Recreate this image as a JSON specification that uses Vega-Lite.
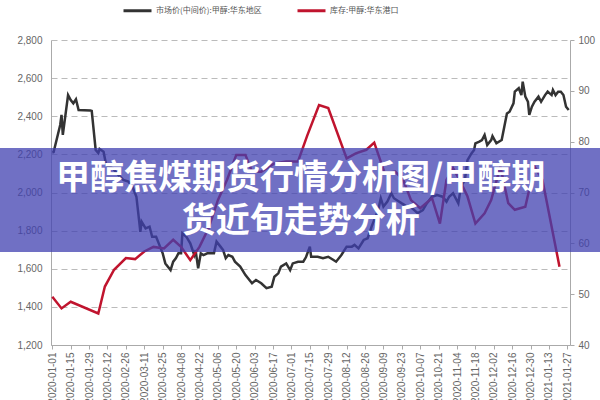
{
  "$schema": "https://vega.github.io/schema/vega-lite/v6.json",
  "width": 519,
  "height": 305,
  "autosize": {"type": "none"},
  "padding": {"left": 51, "top": 40, "right": 30, "bottom": 55},
  "background": "white",
  "config": {
    "view": {"stroke": null},
    "font": "Liberation Sans",
    "axis": {"labelFont": "Liberation Sans", "labelFontSize": 10, "labelColor": "#666", "domainColor": "#aaa", "tickColor": "#aaa", "title": null},
    "axisX": {"labelAngle": 270, "labelPadding": 3, "tickSize": 4, "grid": false, "labelOverlap": false, "labelBound": false, "labelFlush": false, "labelExpr": "utcFormat(datum.value, '%Y-%m-%d')"}
  },
  "datasets": {
    "price": [
      {"date": "2020-01-01", "price": 2210}, {"date": "2020-01-02", "price": 2212}, {"date": "2020-01-07", "price": 2354},
      {"date": "2020-01-08", "price": 2407}, {"date": "2020-01-09", "price": 2302}, {"date": "2020-01-13", "price": 2511},
      {"date": "2020-01-15", "price": 2485}, {"date": "2020-01-17", "price": 2468}, {"date": "2020-01-19", "price": 2489},
      {"date": "2020-01-21", "price": 2433}, {"date": "2020-01-30", "price": 2430}, {"date": "2020-01-31", "price": 2428},
      {"date": "2020-02-03", "price": 2223}, {"date": "2020-02-05", "price": 2207}, {"date": "2020-02-06", "price": 2228},
      {"date": "2020-02-09", "price": 2214}, {"date": "2020-02-11", "price": 2144}, {"date": "2020-02-14", "price": 2135},
      {"date": "2020-02-16", "price": 2127}, {"date": "2020-02-19", "price": 2102}, {"date": "2020-02-24", "price": 2066},
      {"date": "2020-02-28", "price": 2057}, {"date": "2020-03-02", "price": 2030}, {"date": "2020-03-05", "price": 1978},
      {"date": "2020-03-07", "price": 1856}, {"date": "2020-03-08", "price": 1794}, {"date": "2020-03-09", "price": 1847},
      {"date": "2020-03-12", "price": 1812}, {"date": "2020-03-15", "price": 1821}, {"date": "2020-03-17", "price": 1768},
      {"date": "2020-03-20", "price": 1768}, {"date": "2020-03-22", "price": 1733}, {"date": "2020-03-25", "price": 1681},
      {"date": "2020-03-27", "price": 1628}, {"date": "2020-03-31", "price": 1593}, {"date": "2020-04-02", "price": 1637},
      {"date": "2020-04-04", "price": 1655}, {"date": "2020-04-06", "price": 1681}, {"date": "2020-04-08", "price": 1681},
      {"date": "2020-04-09", "price": 1786}, {"date": "2020-04-12", "price": 1768}, {"date": "2020-04-15", "price": 1733},
      {"date": "2020-04-18", "price": 1672}, {"date": "2020-04-19", "price": 1698}, {"date": "2020-04-21", "price": 1602},
      {"date": "2020-04-23", "price": 1681}, {"date": "2020-04-25", "price": 1672}, {"date": "2020-04-28", "price": 1681},
      {"date": "2020-05-03", "price": 1681}, {"date": "2020-05-05", "price": 1742}, {"date": "2020-05-08", "price": 1716},
      {"date": "2020-05-10", "price": 1698}, {"date": "2020-05-12", "price": 1655}, {"date": "2020-05-14", "price": 1672},
      {"date": "2020-05-17", "price": 1663}, {"date": "2020-05-19", "price": 1637}, {"date": "2020-05-23", "price": 1611},
      {"date": "2020-05-27", "price": 1567}, {"date": "2020-06-01", "price": 1524}, {"date": "2020-06-04", "price": 1541},
      {"date": "2020-06-08", "price": 1524}, {"date": "2020-06-12", "price": 1498}, {"date": "2020-06-16", "price": 1506},
      {"date": "2020-06-18", "price": 1558}, {"date": "2020-06-21", "price": 1576}, {"date": "2020-06-23", "price": 1611},
      {"date": "2020-06-27", "price": 1628}, {"date": "2020-06-30", "price": 1593}, {"date": "2020-07-02", "price": 1628},
      {"date": "2020-07-06", "price": 1637}, {"date": "2020-07-10", "price": 1637}, {"date": "2020-07-12", "price": 1660},
      {"date": "2020-07-15", "price": 1716}, {"date": "2020-07-16", "price": 1663}, {"date": "2020-07-21", "price": 1663},
      {"date": "2020-07-25", "price": 1655}, {"date": "2020-07-29", "price": 1663}, {"date": "2020-08-02", "price": 1646},
      {"date": "2020-08-04", "price": 1637}, {"date": "2020-08-08", "price": 1672}, {"date": "2020-08-12", "price": 1716},
      {"date": "2020-08-16", "price": 1716}, {"date": "2020-08-18", "price": 1725}, {"date": "2020-08-21", "price": 1707},
      {"date": "2020-08-25", "price": 1751}, {"date": "2020-08-28", "price": 1760}, {"date": "2020-08-31", "price": 1821},
      {"date": "2020-09-02", "price": 1856}, {"date": "2020-09-05", "price": 1908}, {"date": "2020-09-07", "price": 1970},
      {"date": "2020-09-09", "price": 1926}, {"date": "2020-09-12", "price": 1952}, {"date": "2020-09-15", "price": 1996},
      {"date": "2020-09-17", "price": 1970}, {"date": "2020-09-19", "price": 1961}, {"date": "2020-09-23", "price": 1943},
      {"date": "2020-09-27", "price": 1926}, {"date": "2020-10-01", "price": 1917}, {"date": "2020-10-05", "price": 1891},
      {"date": "2020-10-09", "price": 1908}, {"date": "2020-10-12", "price": 1943}, {"date": "2020-10-16", "price": 1978},
      {"date": "2020-10-20", "price": 1987}, {"date": "2020-10-24", "price": 1978}, {"date": "2020-10-27", "price": 1952},
      {"date": "2020-10-29", "price": 1978}, {"date": "2020-11-01", "price": 1996}, {"date": "2020-11-05", "price": 1943},
      {"date": "2020-11-07", "price": 2030}, {"date": "2020-11-10", "price": 2066}, {"date": "2020-11-12", "price": 2170},
      {"date": "2020-11-15", "price": 2205}, {"date": "2020-11-17", "price": 2223}, {"date": "2020-11-18", "price": 2258},
      {"date": "2020-11-21", "price": 2267}, {"date": "2020-11-23", "price": 2275}, {"date": "2020-11-25", "price": 2302},
      {"date": "2020-11-27", "price": 2249}, {"date": "2020-11-30", "price": 2275}, {"date": "2020-12-01", "price": 2296},
      {"date": "2020-12-04", "price": 2258}, {"date": "2020-12-08", "price": 2275}, {"date": "2020-12-10", "price": 2345},
      {"date": "2020-12-12", "price": 2415}, {"date": "2020-12-14", "price": 2424}, {"date": "2020-12-17", "price": 2468},
      {"date": "2020-12-18", "price": 2529}, {"date": "2020-12-21", "price": 2547}, {"date": "2020-12-23", "price": 2511},
      {"date": "2020-12-24", "price": 2581}, {"date": "2020-12-26", "price": 2503}, {"date": "2020-12-28", "price": 2476},
      {"date": "2020-12-29", "price": 2407}, {"date": "2020-12-31", "price": 2450}, {"date": "2021-01-02", "price": 2476},
      {"date": "2021-01-05", "price": 2503}, {"date": "2021-01-07", "price": 2476}, {"date": "2021-01-10", "price": 2511},
      {"date": "2021-01-12", "price": 2529}, {"date": "2021-01-15", "price": 2511}, {"date": "2021-01-16", "price": 2538},
      {"date": "2021-01-18", "price": 2511}, {"date": "2021-01-20", "price": 2529}, {"date": "2021-01-22", "price": 2529},
      {"date": "2021-01-24", "price": 2511}, {"date": "2021-01-26", "price": 2450}, {"date": "2021-01-28", "price": 2433}
    ],
    "stock": [
      {"date": "2020-01-01", "stock": 49.5}, {"date": "2020-01-08", "stock": 47.2}, {"date": "2020-01-15", "stock": 48.5},
      {"date": "2020-02-05", "stock": 46.2}, {"date": "2020-02-10", "stock": 51.5}, {"date": "2020-02-17", "stock": 54.8},
      {"date": "2020-02-26", "stock": 57.1}, {"date": "2020-03-04", "stock": 56.9}, {"date": "2020-03-11", "stock": 58.4},
      {"date": "2020-03-18", "stock": 59.3}, {"date": "2020-03-26", "stock": 59.0}, {"date": "2020-04-02", "stock": 60.7},
      {"date": "2020-04-08", "stock": 59.3}, {"date": "2020-04-15", "stock": 56.7}, {"date": "2020-04-22", "stock": 59.3},
      {"date": "2020-04-29", "stock": 63.0}, {"date": "2020-05-06", "stock": 68.5}, {"date": "2020-05-13", "stock": 72.5},
      {"date": "2020-05-20", "stock": 77.4}, {"date": "2020-05-27", "stock": 77.4}, {"date": "2020-06-01", "stock": 74.1},
      {"date": "2020-06-08", "stock": 74.1}, {"date": "2020-06-14", "stock": 75.1}, {"date": "2020-06-18", "stock": 75.7},
      {"date": "2020-06-27", "stock": 76.1}, {"date": "2020-07-06", "stock": 76.1}, {"date": "2020-07-13", "stock": 81.2},
      {"date": "2020-07-22", "stock": 87.2}, {"date": "2020-07-29", "stock": 86.6}, {"date": "2020-08-12", "stock": 76.7},
      {"date": "2020-08-19", "stock": 77.7}, {"date": "2020-08-27", "stock": 78.4}, {"date": "2020-09-02", "stock": 79.8},
      {"date": "2020-09-10", "stock": 73.8}, {"date": "2020-09-18", "stock": 74.1}, {"date": "2020-09-24", "stock": 72.5},
      {"date": "2020-09-30", "stock": 68.5}, {"date": "2020-10-07", "stock": 66.9}, {"date": "2020-10-16", "stock": 68.9},
      {"date": "2020-10-22", "stock": 63.9}, {"date": "2020-10-27", "stock": 72.5}, {"date": "2020-11-01", "stock": 74.8},
      {"date": "2020-11-06", "stock": 72.5}, {"date": "2020-11-12", "stock": 69.2}, {"date": "2020-11-18", "stock": 63.9},
      {"date": "2020-11-25", "stock": 65.9}, {"date": "2020-11-30", "stock": 68.5}, {"date": "2020-12-07", "stock": 75.1},
      {"date": "2020-12-13", "stock": 67.9}, {"date": "2020-12-18", "stock": 66.6}, {"date": "2020-12-26", "stock": 67.2},
      {"date": "2021-01-02", "stock": 75.1}, {"date": "2021-01-08", "stock": 72.5}, {"date": "2021-01-21", "stock": 55.4}
    ]
  },
  "layer": [
    {
      "data": {"name": "price"},
      "mark": {"type": "line", "strokeWidth": 2.5},
      "encoding": {
        "x": {
          "field": "date", "type": "temporal",
          "scale": {"type": "utc", "domain": [1577750400000, 1611878400000]},
          "axis": {"values": [1577836800000, 1579046400000, 1580256000000, 1581465600000, 1582675200000, 1583884800000, 1585094400000, 1586304000000, 1587513600000, 1588723200000, 1589932800000, 1591142400000, 1592352000000, 1593561600000, 1594771200000, 1595980800000, 1597190400000, 1598400000000, 1599609600000, 1600819200000, 1602028800000, 1603238400000, 1604448000000, 1605657600000, 1606867200000, 1608076800000, 1609286400000, 1610496000000, 1611705600000]}
        },
        "y": {
          "field": "price", "type": "quantitative",
          "scale": {"domain": [1200, 2800]},
          "axis": {"orient": "left", "values": [1200, 1400, 1600, 1800, 2000, 2200, 2400, 2600, 2800], "format": ",d", "ticks": false, "labelPadding": 9, "grid": true, "gridDash": [6, 4], "gridColor": "#bbb"}
        },
        "color": {
          "datum": "市场价(中间价):甲醇:华东地区", "type": "nominal",
          "scale": {"domain": ["市场价(中间价):甲醇:华东地区", "库存:甲醇:华东港口"], "range": ["#333333", "#c0142e"]},
          "legend": {
            "orient": "none", "legendX": 71, "legendY": -45, "direction": "horizontal", "title": null,
            "symbolType": "stroke", "symbolStrokeWidth": 3, "symbolSize": 784, "labelFont": "Noto Sans CJK SC",
            "labelFontSize": 8, "labelColor": "#555", "columnPadding": 29, "labelOffset": 3
          }
        }
      }
    },
    {
      "data": {"name": "stock"},
      "mark": {"type": "line", "strokeWidth": 2.5},
      "encoding": {
        "x": {
          "field": "date", "type": "temporal",
          "scale": {"type": "utc", "domain": [1577750400000, 1611878400000]},
          "axis": {"values": [1577836800000, 1579046400000, 1580256000000, 1581465600000, 1582675200000, 1583884800000, 1585094400000, 1586304000000, 1587513600000, 1588723200000, 1589932800000, 1591142400000, 1592352000000, 1593561600000, 1594771200000, 1595980800000, 1597190400000, 1598400000000, 1599609600000, 1600819200000, 1602028800000, 1603238400000, 1604448000000, 1605657600000, 1606867200000, 1608076800000, 1609286400000, 1610496000000, 1611705600000]}
        },
        "y": {
          "field": "stock", "type": "quantitative",
          "scale": {"domain": [40, 100]},
          "axis": {"orient": "right", "values": [40, 50, 60, 70, 80, 90, 100], "ticks": true, "tickSize": 4, "labelPadding": 4, "grid": false}
        },
        "color": {"datum": "库存:甲醇:华东港口", "type": "nominal"}
      }
    },
    {
      "data": {"values": [{}]},
      "mark": {"type": "rect", "color": "#4040b0", "opacity": 0.75, "clip": false},
      "encoding": {
        "x": {
          "datum": 1573776000000, "type": "temporal",
          "scale": {"type": "utc", "domain": [1577750400000, 1611878400000]},
          "axis": {"values": [1577836800000, 1579046400000, 1580256000000, 1581465600000, 1582675200000, 1583884800000, 1585094400000, 1586304000000, 1587513600000, 1588723200000, 1589932800000, 1591142400000, 1592352000000, 1593561600000, 1594771200000, 1595980800000, 1597190400000, 1598400000000, 1599609600000, 1600819200000, 1602028800000, 1603238400000, 1604448000000, 1605657600000, 1606867200000, 1608076800000, 1609286400000, 1610496000000, 1611705600000]}
        },
        "x2": {"datum": 1615334400000},
        "y": {"datum": 2233, "type": "quantitative", "scale": {"domain": [1200, 2800]}, "axis": null},
        "y2": {"datum": 1688}
      }
    },
    {
      "data": {"values": [{}]},
      "mark": {"type": "text", "text": ["甲醇焦煤期货行情分析图/甲醇期", "货近旬走势分析"], "font": "Noto Sans CJK SC", "fontWeight": "bold", "fontSize": 34, "lineHeight": 43, "color": "white", "align": "center", "baseline": "middle"},
      "encoding": {
        "x": {
          "datum": 1594166400000, "type": "temporal",
          "scale": {"type": "utc", "domain": [1577750400000, 1611878400000]},
          "axis": {"values": [1577836800000, 1579046400000, 1580256000000, 1581465600000, 1582675200000, 1583884800000, 1585094400000, 1586304000000, 1587513600000, 1588723200000, 1589932800000, 1591142400000, 1592352000000, 1593561600000, 1594771200000, 1595980800000, 1597190400000, 1598400000000, 1599609600000, 1600819200000, 1602028800000, 1603238400000, 1604448000000, 1605657600000, 1606867200000, 1608076800000, 1609286400000, 1610496000000, 1611705600000]}
        },
        "y": {"datum": 2071, "type": "quantitative", "scale": {"domain": [1200, 2800]}, "axis": null}
      }
    }
  ],
  "resolve": {"scale": {"y": "independent"}}
}
